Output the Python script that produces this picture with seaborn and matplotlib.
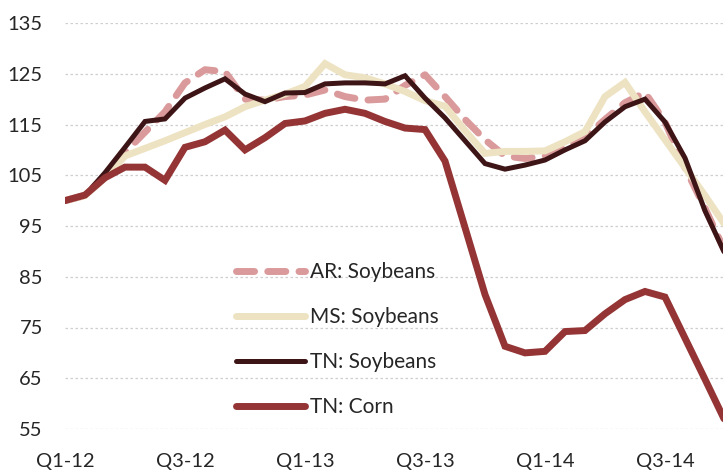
import numpy as np
import pandas as pd
import matplotlib
matplotlib.use("Agg")
import matplotlib.pyplot as plt
import seaborn as sns

# Monthly index values, Jan 2012 = 100 (month 0 .. 33)
months = list(range(34))
ar_soybeans = [100, 101, 105, 109.5, 113.5, 117.5, 123.2, 125.8, 125.4, 120.0,
               119.8, 120.5, 120.8, 121.8, 120.5, 119.8, 120.0, 122.7, 124.8, 120.5,
               116.0, 112.0, 108.8, 108.3, 108.8, 110.5, 112.5, 116.0, 119.3, 121.3,
               115.5, 106.5, 98.5, 90.0]
ms_soybeans = [100, 101, 104.5, 108.8, 110.3, 111.8, 113.4, 115.0, 116.5, 118.5,
               119.8, 121.0, 122.5, 127.0, 124.8, 124.2, 123.0, 121.5, 119.7, 118.6,
               113.8, 109.3, 109.7, 109.7, 109.8, 111.6, 113.6, 120.5, 123.3, 117.5,
               112.0, 106.5, 101.0, 95.2]
tn_soybeans = [100, 101, 105.5, 110.5, 115.6, 116.1, 120.2, 122.2, 124.0, 121.0,
               119.5, 121.2, 121.3, 123.0, 123.2, 123.2, 123.0, 124.6, 120.2, 116.3,
               111.8, 107.3, 106.2, 107.0, 108.0, 110.0, 111.8, 115.5, 118.5, 120.0,
               115.5, 108.4, 98.0, 89.5]
tn_corn = [100, 101.1, 104.5, 106.6, 106.6, 104.0, 110.5, 111.6, 113.9, 110.0,
           112.4, 115.2, 115.7, 117.2, 118.0, 117.2, 115.6, 114.3, 114.0, 107.8,
           94.7, 81.5, 71.3, 70.0, 70.3, 74.2, 74.4, 77.7, 80.5, 82.1,
           81.0, 72.9, 64.8, 56.6]
series_names = ["AR: Soybeans", "MS: Soybeans", "TN: Soybeans", "TN: Corn"]
tick_positions = [0, 6, 12, 18, 24, 30]
tick_labels = ["Q1-12", "Q3-12", "Q1-13", "Q3-13", "Q1-14", "Q3-14"]
y_ticks = [55, 65, 75, 85, 95, 105, 115, 125, 135]

colors = ["#DA9A9B", "#EDE3C2", "#3E1517", "#943435"]
widths = [5.0, 5.0, 3.6, 5.0]

sns.set_theme(style="white")
plt.rcParams["font.family"] = ["Lato", "DejaVu Sans"]

W, H = 723, 471
fig = plt.figure(figsize=(W / 100, H / 100), dpi=100)
left = 65 / W
bottom = (H - 429) / H
top = (H - 23) / H
ax = fig.add_axes([left, bottom, 1 - left, top - bottom])

all_series = [ar_soybeans, ms_soybeans, tn_soybeans, tn_corn]
for name, vals, c, lw in zip(series_names, all_series, colors, widths):
    df = pd.DataFrame({"month": months, "value": vals})
    sns.lineplot(data=df, x="month", y="value", ax=ax, color=c, linewidth=lw,
                 label=name, legend=False)
    ln = ax.lines[-1]
    ln.set_solid_joinstyle("miter")
    if name == "AR: Soybeans":
        ln.set_dashes([2.6, 1.9])
        ln.set_dash_capstyle("round")

ax.set_xlim(0, (W - 65) / 20)
ax.set_ylim(55, 135)
ax.set_yticks(y_ticks)
ax.set_yticklabels([str(v) for v in y_ticks], fontsize=14.5)
ax.set_xticks(tick_positions)
ax.set_xticklabels(tick_labels, fontsize=14.5)
ax.tick_params(axis="y", length=0, pad=16)
ax.tick_params(axis="x", length=0, pad=17)
ax.set_xlabel("")
ax.set_ylabel("")
for s in ax.spines.values():
    s.set_visible(False)
ax.grid(False)
for v in y_ticks:
    ax.axhline(v, color="#CFCFCF", lw=0.9, ls=(0, (2, 2)), zorder=0)

handles = ax.lines[:4]
leg = ax.legend(handles, series_names, loc="upper left",
                bbox_to_anchor=((228 - 65) / (W - 65), (429 - 254) / 406),
                frameon=False, fontsize=15, handlelength=3.3,
                handletextpad=0.25, labelspacing=1.2, borderaxespad=0)

fig.savefig("out.png", dpi=100)
